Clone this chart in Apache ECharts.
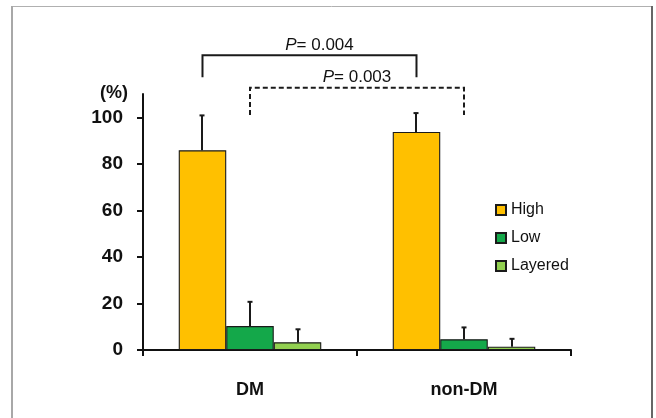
<!DOCTYPE html>
<html><head><meta charset="utf-8">
<script src="https://cdn.jsdelivr.net/npm/echarts@6/dist/echarts.min.js"></script>
<style>html,body{margin:0;padding:0;background:#fff}#c{width:656px;height:418px}</style>
</head><body><div id="c"></div>
<script>
// ---- data ----
const categories = ['DM', 'non-DM'];
const seriesNames = ['High', 'Low', 'Layered'];
const highValues = [85.8, 93.7];
const lowValues = [10.3, 4.6];
const layeredValues = [3.3, 1.4];
const highErrors = [15.0, 8.1];
const lowErrors = [10.4, 5.1];
const layeredErrors = [5.6, 3.4];
const yTicks = [0, 20, 40, 60, 80, 100];
const pValues = ['0.004', '0.003'];
const comparedSeries = [0, 1]; // High vs High, Low vs Low

// ---- style / layout ----
const FONT = '"Liberation Sans", Arial, Helvetica, sans-serif';
const COLORS = ['#FFC000', '#14A84A', '#92D050'];
const BAR_FRAC = 0.222;
const BRACKETS = [
  { top: 126.6, ends: 117.2, dash: null, textDx: 10 },
  { top: 112.7, ends: 101.0, dash: [5, 3], textDx: 0 }
];

const values = [highValues, lowValues, layeredValues];
const errors = [highErrors, lowErrors, layeredErrors];

const errData = [];
values.forEach((arr, k) => arr.forEach((v, c) => errData.push([c, v, errors[k][c], k])));

function renderError(params, api) {
  const cat = api.value(0), v = api.value(1), e = api.value(2), k = api.value(3);
  const band = api.size([1, 0])[0];
  const off = (k - 1) * band * BAR_FRAC;
  const p0 = api.coord([cat, v]);
  const p1 = api.coord([cat, v + e]);
  const x = Math.round(p0[0] + off);
  const st = { stroke: '#1a1a1a', lineWidth: 2 };
  return { type: 'group', children: [
    { type: 'line', shape: { x1: x, y1: p0[1], x2: x, y2: p1[1] }, style: st },
    { type: 'line', shape: { x1: x - 2.5, y1: p1[1], x2: x + 2.5, y2: p1[1] }, style: st }
  ]};
}

function renderBracket(params, api) {
  const i = params.dataIndex;
  const b = BRACKETS[i];
  const k = comparedSeries[i];
  const band = api.size([1, 0])[0];
  const off = (k - 1) * band * BAR_FRAC;
  const xl = api.coord([0, 0])[0] + off;
  const xr = api.coord([1, 0])[0] + off;
  const yt = api.coord([0, b.top])[1];
  const ye = api.coord([0, b.ends])[1];
  const st = { stroke: '#1a1a1a', lineWidth: 2, fill: 'none' };
  if (b.dash) st.lineDash = b.dash;
  return { type: 'group', children: [
    { type: 'polyline', shape: { points: [[xl, ye], [xl, yt], [xr, yt], [xr, ye]] }, style: st },
    { type: 'text', style: {
        text: '{i|P}= ' + pValues[i], x: (xl + xr) / 2 + b.textDx, y: yt - 10,
        align: 'center', verticalAlign: 'middle', fontSize: 17, fontFamily: FONT, fill: '#111',
        rich: { i: { fontStyle: 'italic', fontSize: 17, fontFamily: FONT, fill: '#111' } }
    } }
  ]};
}

const chart = echarts.init(document.getElementById('c'), null, { renderer: 'canvas' });
chart.setOption({
  animation: false,
  backgroundColor: '#fff',
  grid: { left: 143, right: 85, top: 94, bottom: 68, containLabel: false },
  legend: {
    data: seriesNames, orient: 'vertical', left: 490, top: 197,
    itemWidth: 10, itemHeight: 10, itemGap: 12, icon: 'rect',
    textStyle: { fontSize: 16, fontFamily: FONT, color: '#111' }
  },
  xAxis: {
    type: 'category', data: categories,
    axisLine: { lineStyle: { color: '#111', width: 2 } },
    axisTick: { show: true, length: 6, lineStyle: { color: '#111', width: 2 } },
    axisLabel: { fontSize: 18, fontWeight: 'bold', fontFamily: FONT, color: '#111', margin: 31 }
  },
  yAxis: {
    type: 'value', min: 0, max: 110, interval: 20,
    name: '(%)', nameLocation: 'end', nameGap: 1,
    nameTextStyle: { fontSize: 18, fontWeight: 'bold', fontFamily: FONT, color: '#111', align: 'right', verticalAlign: 'middle', padding: [0, 15, 0, 0] },
    axisLine: { show: true, lineStyle: { color: '#111', width: 2 } },
    axisTick: { show: true, length: 6, customValues: yTicks, lineStyle: { color: '#111', width: 2 } },
    axisLabel: { customValues: yTicks, fontSize: 19, fontWeight: 'bold', fontFamily: FONT, color: '#111', margin: 20 },
    splitLine: { show: false }
  },
  graphic: [
    { type: 'line', shape: { x1: 11, y1: 6.5, x2: 652, y2: 6.5 }, style: { stroke: '#b0b0b0', lineWidth: 1 } },
    { type: 'line', shape: { x1: 12, y1: 6, x2: 12, y2: 418 }, style: { stroke: '#a8a8a8', lineWidth: 2 } },
    { type: 'line', shape: { x1: 652, y1: 6, x2: 652, y2: 418 }, style: { stroke: '#666', lineWidth: 2 } }
  ],
  series: seriesNames.map((n, k) => ({
    name: n, type: 'bar', data: values[k], barWidth: (BAR_FRAC * 100) + '%', barGap: '0%',
    itemStyle: { color: COLORS[k], borderColor: '#1a1a1a', borderWidth: 1.1 }
  })).concat([
    { name: 'err', type: 'custom', renderItem: renderError, data: errData, encode: { x: 0, y: 1 }, z: 5, silent: true },
    { name: 'brackets', type: 'custom', renderItem: renderBracket, clip: false,
      data: pValues.map((p, i) => [0, 1, BRACKETS[i].top]), encode: { x: [0, 1], y: 2 }, z: 5, silent: true }
  ])
});
</script></body></html>
